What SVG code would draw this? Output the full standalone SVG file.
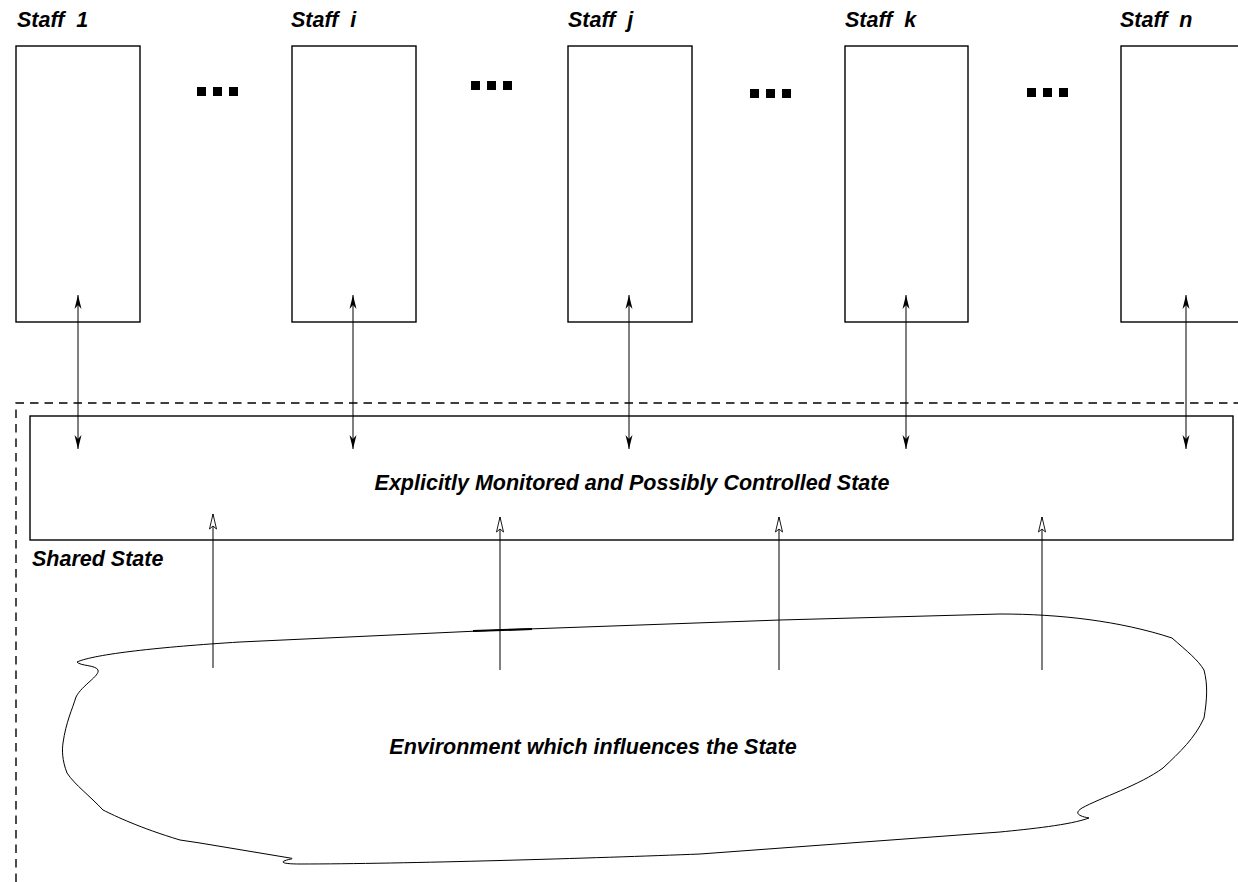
<svg xmlns="http://www.w3.org/2000/svg" width="1238" height="882" viewBox="0 0 1238 882">
<style>
.box{fill:#fff;stroke:#000;stroke-width:1.4}
.lbl{font-family:"Liberation Sans",Arial,sans-serif;font-weight:bold;font-style:italic;font-size:21.5px;fill:#000}
.big{font-family:"Liberation Sans",Arial,sans-serif;font-weight:bold;font-style:italic;font-size:21.5px;fill:#000}
.dot{fill:#000}
.ln{stroke:#000;stroke-width:1;fill:none}
.dash{stroke:#000;stroke-width:1.4;fill:none;stroke-dasharray:8.5 6}
</style>
<defs>
<marker id="fa" viewBox="-14 -5 15 10" refX="0" refY="0" markerWidth="15" markerHeight="10" markerUnits="userSpaceOnUse" orient="auto-start-reverse">
<path d="M0,0 L-14,-3.5 L-10,0 L-14,3.5 Z" fill="#000"/>
</marker>
<marker id="oa" viewBox="-17 -5 18 10" refX="0" refY="0" markerWidth="18" markerHeight="10" markerUnits="userSpaceOnUse" orient="auto">
<path d="M0,0 L-15,-3.5 L-12,0 L-15,3.5 Z" fill="#fff" stroke="#000" stroke-width="0.9"/>
</marker>
</defs>
<rect width="1238" height="882" fill="#fff"/>

<g id="shared-state">
<path class="dash" d="M16,882 L16,403 L1238,403"/>
<text class="lbl" x="32" y="566">Shared State</text>
</g>

<g id="state">
<rect class="box" x="30" y="416" width="1203" height="124"/>
<text class="big" x="632" y="490" text-anchor="middle">Explicitly Monitored and Possibly Controlled State</text>
</g>

<g id="staff-1">
<text class="lbl" x="17" y="27" xml:space="preserve">Staff  1</text>
<rect class="box" x="16" y="46" width="124" height="276"/>
</g>
<g id="staff-i">
<text class="lbl" x="291" y="27" xml:space="preserve">Staff  i</text>
<rect class="box" x="292" y="46" width="124" height="276"/>
</g>
<g id="staff-j">
<text class="lbl" x="568" y="27" xml:space="preserve">Staff  j</text>
<rect class="box" x="568" y="46" width="124" height="276"/>
</g>
<g id="staff-k">
<text class="lbl" x="845" y="27" xml:space="preserve">Staff  k</text>
<rect class="box" x="845" y="46" width="123" height="276"/>
</g>
<g id="staff-n">
<text class="lbl" x="1120" y="27" xml:space="preserve">Staff  n</text>
<rect class="box" x="1121" y="46" width="130" height="276"/>
</g>

<g id="ellipses">
<rect class="dot" x="197" y="87" width="9" height="9"/><rect class="dot" x="213" y="87" width="9" height="9"/><rect class="dot" x="229" y="87" width="9" height="9"/>
<rect class="dot" x="471" y="81" width="9" height="9"/><rect class="dot" x="487" y="81" width="9" height="9"/><rect class="dot" x="503" y="81" width="9" height="9"/>
<rect class="dot" x="750" y="89" width="9" height="9"/><rect class="dot" x="766" y="89" width="9" height="9"/><rect class="dot" x="782" y="89" width="9" height="9"/>
<rect class="dot" x="1027" y="88" width="9" height="9"/><rect class="dot" x="1043" y="88" width="9" height="9"/><rect class="dot" x="1059" y="88" width="9" height="9"/>
</g>

<g id="environment">
<path class="ln" stroke-width="1.2" d="M77,662 C95,654 160,647 240,642 L500,630 L780,620 L1000,614 C1060,614 1120,621 1172,638 C1188,652 1198,660 1204,670 C1208,685 1207,700 1204,718 C1195,738 1180,752 1163,768 C1140,785 1100,798 1082,808 C1074,813 1078,816 1089,818 C1070,825 1030,829 1000,832 L700,854 C600,858 400,864 300,864 C288,864 280,863 284,861 C288,859 296,859 290,858 L200,843 L180,840 C140,828 115,816 103,810 C90,796 75,785 67,773 C62,760 62,750 63,743 C66,722 72,710 76,697 C82,685 100,676 98,670 C96,665 80,666 77,662 Z"/>
<path d="M473,631 L532,629" stroke="#000" stroke-width="2.2" fill="none"/>
<text class="big" x="593" y="754" text-anchor="middle">Environment which influences the State</text>
</g>

<g id="connectors">
<line class="ln" x1="78" y1="295" x2="78" y2="449" marker-start="url(#fa)" marker-end="url(#fa)"/>
<line class="ln" x1="353" y1="295" x2="353" y2="449" marker-start="url(#fa)" marker-end="url(#fa)"/>
<line class="ln" x1="629" y1="295" x2="629" y2="449" marker-start="url(#fa)" marker-end="url(#fa)"/>
<line class="ln" x1="906" y1="295" x2="906" y2="449" marker-start="url(#fa)" marker-end="url(#fa)"/>
<line class="ln" x1="1186" y1="295" x2="1186" y2="449" marker-start="url(#fa)" marker-end="url(#fa)"/>
<line class="ln" x1="213" y1="668" x2="213" y2="514" marker-end="url(#oa)"/>
<line class="ln" x1="500" y1="670" x2="500" y2="517" marker-end="url(#oa)"/>
<line class="ln" x1="779" y1="670" x2="779" y2="517" marker-end="url(#oa)"/>
<line class="ln" x1="1042" y1="670" x2="1042" y2="517" marker-end="url(#oa)"/>
</g>
</svg>
